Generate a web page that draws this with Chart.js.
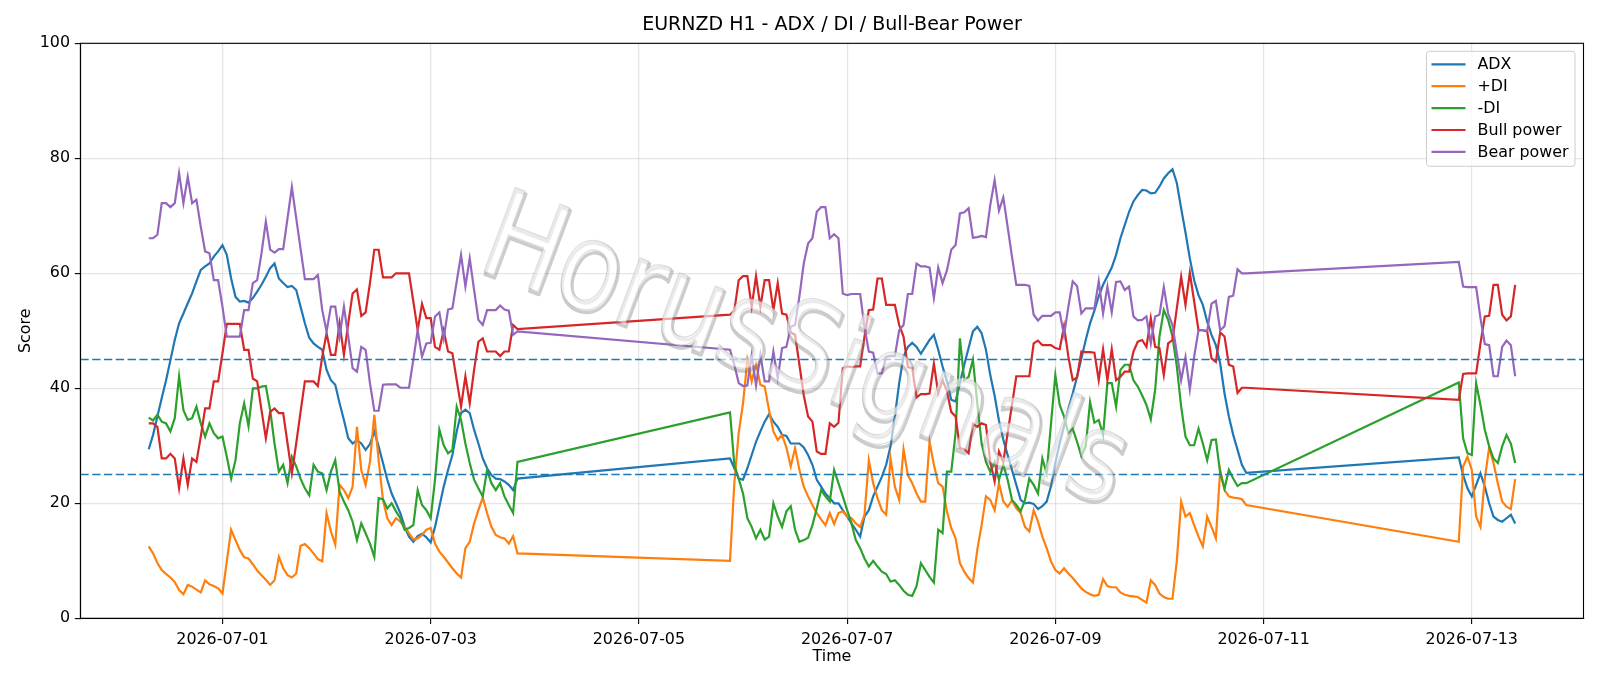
<!DOCTYPE html>
<html>
<head>
<meta charset="utf-8">
<script src="https://cdn.jsdelivr.net/npm/chart.js@4.4.1/dist/chart.umd.min.js"></script>
<style>
html,body{margin:0;padding:0;background:#ffffff;}
#wrap{width:1600px;height:686px;}
</style>
</head>
<body>
<div id="wrap"><canvas id="c" width="1600" height="686"></canvas></div>
<script>
// ---- categories (hourly bars, three trading blocks) ----
const segmentStarts = ['2026-06-30T07:00:00Z', '2026-07-05T21:00:00Z', '2026-07-12T21:00:00Z'];
const segmentLengths = [86, 120, 14];
const xTickLabels = ['2026-07-01', '2026-07-03', '2026-07-05', '2026-07-07', '2026-07-09', '2026-07-11', '2026-07-13'];
const yTickValues = [0, 20, 40, 60, 80, 100];
const refLevels = [45, 25];
const seriesLabels = ['ADX', '+DI', '-DI', 'Bull power', 'Bear power'];
const chartTitle = 'EURNZD H1 - ADX / DI / Bull-Bear Power';
const watermarkText = 'HorusSignals';

// ---- series values ----
const adx = [
29.4,31.9,35.1,38.3,41.4,44.9,48.4,51.3,53.0,54.8,56.5,58.6,60.6,61.2,61.7,62.9,63.8,64.9,
63.2,59.1,55.9,55.1,55.2,54.9,55.7,56.8,58.0,59.4,60.9,61.7,
59.1,58.3,57.6,57.8,57.1,54.2,51.3,48.8,47.8,47.2,46.7,43.2,41.4,40.6,37.4,34.5,31.3,30.4,31.0,30.4,29.3,30.3,32.5,29.9,27.0,24.1,21.7,20.0,18.3,
15.9,14.2,13.3,14.3,14.7,14.1,13.2,15.9,19.4,22.9,25.8,28.4,32.5,35.7,36.3,35.7,32.8,30.4,27.8,26.1,24.9,24.3,24.2,23.8,23.2,22.3,24.3,
27.8,26.1,24.3,24.1,26.1,28.4,30.7,32.5,34.2,35.5,34.2,33.3,31.9,31.7,30.4,30.4,30.4,29.7,28.4,26.7,24.1,22.9,21.7,20.9,20.0,20.0,18.8,17.7,16.5,
15.4,14.2,17.7,18.8,21.2,22.9,24.6,26.7,29.9,35.1,40.9,45.5,47.2,47.9,47.2,46.0,47.2,48.4,49.3,46.7,43.8,41.2,38.0,37.7,40.9,44.1,47.0,49.9,50.7,49.6,
46.7,42.3,38.7,34.4,31.1,28.4,25.8,23.2,20.6,20.0,20.1,19.9,19.0,19.5,20.3,23.0,27.1,30.4,33.4,36.5,39.1,42.0,45.2,48.4,51.3,53.5,56.0,58.0,59.5,61.0,
63.2,66.1,68.4,70.7,72.5,73.6,74.5,74.4,73.9,74.0,75.1,76.5,77.4,78.1,75.7,71.3,67.1,62.6,58.8,56.2,54.5,51.6,49.3,47.5,44.3,39.1,35.1,31.9,29.3,26.7,25.3,
28.0,24.9,22.6,21.2,23.2,25.2,22.9,20.0,17.7,17.1,16.8,17.4,18.0,16.5
];
const plusDi = [
12.5,11.3,9.6,8.4,7.7,7.1,6.3,4.9,4.2,5.8,5.5,5.0,4.5,6.6,5.9,5.6,5.2,4.3,
9.9,15.4,13.6,11.9,10.6,10.4,9.4,8.3,7.5,6.7,5.8,6.6,
10.7,8.7,7.5,7.1,7.8,12.6,12.9,12.2,11.3,10.3,9.9,18.3,15.1,12.8,23.2,22.3,20.9,22.9,33.3,25.8,23.2,27.2,35.4,27.5,20.6,17.4,16.2,17.4,16.8,
15.9,14.8,13.7,13.9,14.5,15.4,15.7,13.0,11.6,10.7,9.7,8.7,7.8,7.1,12.2,13.3,16.5,18.8,21.0,18.3,15.9,14.5,14.1,13.9,13.0,14.3,11.3,
10.0,23.5,32.2,37.4,44.9,41.2,44.3,40.6,40.3,36.2,32.5,31.0,31.9,29.7,26.4,29.6,25.8,22.9,21.2,19.7,18.3,17.2,16.2,18.3,16.4,18.3,18.6,17.7,17.4,
16.5,15.9,18.0,27.5,23.5,20.9,18.8,18.0,27.8,22.9,20.6,29.4,24.9,23.5,21.7,20.3,20.3,30.7,26.7,23.5,22.9,18.6,15.7,13.9,9.6,8.1,7.0,6.2,11.9,16.2,
21.2,20.6,18.8,23.5,20.3,19.4,20.5,19.1,18.3,15.9,15.1,18.8,16.8,14.2,12.2,9.9,8.4,7.8,8.7,7.8,7.0,6.1,5.2,4.6,4.2,3.9,4.1,6.8,5.6,5.4,
5.4,4.5,4.1,3.9,3.8,3.7,3.2,2.7,6.6,5.8,4.3,3.7,3.4,3.4,10.0,20.3,17.7,18.3,16.2,14.2,12.5,17.7,15.9,13.9,25.8,22.3,21.2,21.0,20.9,20.7,19.7,
13.3,26.4,28.1,25.8,17.7,15.9,24.3,29.7,27.0,23.5,20.3,19.4,19.0,24.2
];
const minusDi = [
34.9,34.4,35.4,34.2,33.9,32.5,34.8,42.1,36.2,34.5,34.8,36.8,33.9,31.6,33.9,32.2,31.3,31.6,
28.1,24.3,27.5,33.9,37.4,33.4,40.0,40.0,40.3,40.4,36.2,30.4,
25.5,26.7,23.5,28.1,26.4,24.3,22.6,21.4,26.7,25.5,25.2,22.3,25.5,27.5,22.0,20.3,18.8,16.8,13.6,16.5,14.8,13.0,10.7,20.9,20.7,19.1,20.0,18.6,17.4,
15.4,15.7,16.2,22.3,19.7,18.8,17.4,24.1,32.8,30.1,28.7,29.3,36.8,34.5,30.4,27.0,24.1,22.6,21.2,25.8,23.5,22.3,23.5,21.2,19.7,18.3,27.2,
35.8,26.7,24.3,21.7,17.4,15.9,13.9,15.4,13.7,14.2,20.0,17.7,15.9,18.6,19.5,15.4,13.3,13.6,14.0,16.2,19.1,22.3,21.2,20.3,25.8,23.5,21.2,18.8,16.5,
13.6,12.2,10.4,9.0,10.0,9.0,8.1,7.7,6.4,6.6,5.8,4.8,4.1,3.9,5.6,9.6,8.4,7.2,6.2,15.4,14.8,25.5,25.5,32.2,48.7,41.4,42.0,45.0,37.4,30.4,
27.2,25.5,27.2,24.1,26.7,24.1,20.6,19.7,18.6,20.6,24.3,23.2,21.7,27.8,25.2,33.9,42.3,37.1,35.1,32.2,33.0,30.7,28.2,29.9,37.6,34.0,34.5,31.9,40.9,40.9,
36.8,43.2,44.1,44.1,41.4,40.3,38.8,37.1,34.6,39.7,49.0,53.6,51.9,49.0,43.8,36.8,31.6,30.1,30.1,33.0,30.4,27.5,31.0,31.1,25.2,22.6,25.8,24.3,23.0,23.5,23.5,
41.0,31.3,28.7,28.4,40.9,37.1,32.8,29.9,27.8,27.0,29.9,31.9,30.4,27.0
];
const bullPower = [
33.9,33.9,33.3,27.8,27.8,28.6,27.8,22.6,27.8,23.2,27.8,27.2,31.6,36.5,36.5,41.2,41.2,46.1,
51.2,51.2,51.2,51.2,46.7,46.7,41.7,41.2,36.2,31.3,35.9,36.5,
35.7,35.7,30.4,25.2,30.4,35.9,41.2,41.2,41.2,40.4,45.5,49.6,45.8,45.8,51.3,45.8,51.3,56.5,57.2,52.6,53.2,58.3,64.1,64.1,59.3,59.3,59.3,60.0,60.0,
60.0,60.0,55.1,50.1,54.7,52.2,52.2,47.2,46.7,50.1,46.4,46.1,41.4,36.8,42.1,37.4,43.2,48.1,48.7,46.4,46.4,46.4,45.6,46.4,46.4,51.0,50.3,
52.8,53.5,58.8,59.5,59.5,54.2,59.5,54.2,58.8,58.8,53.6,58.3,53.0,52.8,49.7,49.3,44.1,38.8,35.1,34.2,29.0,28.6,28.6,33.9,33.3,34.0,43.5,43.8,43.7,
43.8,43.8,49.0,53.6,53.7,59.1,59.1,54.5,54.5,54.5,51.0,49.0,43.7,43.5,38.4,39.0,39.0,39.1,44.3,39.1,41.4,39.5,35.9,35.1,29.6,29.4,28.7,33.8,33.3,33.9,
33.6,27.2,23.8,29.0,27.2,32.2,37.1,42.1,42.1,42.1,42.1,47.8,48.3,47.5,47.5,47.5,47.0,46.8,50.8,45.5,41.4,41.9,46.4,46.3,46.3,46.2,41.4,46.8,41.4,46.8,
41.4,42.0,42.9,42.9,46.4,48.1,48.4,47.2,52.2,47.2,47.0,42.3,47.8,48.4,53.9,59.4,54.5,60.1,55.1,50.1,50.1,49.9,45.2,44.6,49.7,49.0,44.1,43.8,39.2,40.1,40.1,
38.0,42.5,42.6,42.6,42.6,47.8,52.5,52.6,58.0,58.0,52.8,51.8,52.5,58.0
];
const bearPower = [
66.1,66.1,66.7,72.2,72.2,71.5,72.2,77.4,72.2,76.8,72.2,72.8,68.1,63.8,63.5,58.8,58.8,54.2,
49.0,49.0,49.0,49.0,53.6,53.6,58.3,58.8,63.5,69.0,64.1,63.6,
64.2,64.2,69.6,75.0,69.6,64.3,59.0,59.0,59.0,59.7,53.6,49.9,54.2,54.2,49.0,54.2,49.0,43.5,42.9,47.2,46.7,40.9,36.1,36.1,40.6,40.7,40.7,40.7,40.1,
40.1,40.1,45.0,50.1,45.5,47.8,47.9,52.5,53.2,48.7,53.7,53.9,58.6,63.2,57.7,62.6,57.1,51.9,51.0,53.6,53.6,53.6,54.4,53.7,53.5,49.3,49.9,
46.7,44.1,40.9,40.4,40.5,45.8,40.5,45.8,41.2,41.2,46.4,41.7,47.0,47.2,50.7,51.0,56.0,61.7,65.2,66.1,70.7,71.5,71.5,66.1,66.8,66.1,56.5,56.2,56.4,
56.4,56.4,50.7,46.4,46.2,42.6,42.6,45.5,45.6,45.6,50.1,51.0,56.4,56.4,61.7,61.2,61.2,61.0,55.7,61.0,58.3,60.5,64.1,64.9,70.4,70.6,71.3,66.2,66.3,66.5,
66.3,71.9,76.2,70.9,73.2,68.1,62.9,58.0,58.0,58.0,57.8,52.8,51.8,52.6,52.6,52.6,53.2,53.2,49.2,54.2,58.6,57.8,53.0,53.9,53.9,53.9,58.6,53.0,57.7,53.2,
58.5,58.6,57.1,57.7,52.5,51.8,51.9,52.5,47.8,52.5,52.8,57.6,53.0,51.0,46.1,41.4,45.4,39.8,45.5,50.1,50.1,50.0,54.7,55.2,50.1,50.8,55.9,56.1,60.7,60.0,60.0,
62.0,57.7,57.6,57.6,57.6,52.2,47.7,47.5,42.1,42.1,47.2,48.3,47.5,42.1
];

// ---- styles ----
const seriesColors = ['#1f77b4', '#ff7f0e', '#2ca02c', '#d62728', '#9467bd'];
const FONT = '"DejaVu Sans", "Liberation Sans", sans-serif';
const TICK_PX = 15.9;

// ---- build time axis from segments ----
const HOUR = 3600000;
const times = [];
segmentStarts.forEach((s, i) => {
  const t0 = Date.parse(s);
  for (let k = 0; k < segmentLengths[i]; k++) times.push(t0 + k * HOUR);
});
const tMin = times[0], tMax = times[times.length - 1];
const span = tMax - tMin;
const xMin = tMin - 0.05 * span, xMax = tMax + 0.05 * span;
const tickValues = xTickLabels.map(s => Date.parse(s + 'T00:00:00Z'));

const seriesValues = [adx, plusDi, minusDi, bullPower, bearPower];
const datasets = seriesValues.map((vals, i) => ({
  label: seriesLabels[i],
  data: vals.map((v, k) => ({x: times[k], y: v})),
  borderColor: seriesColors[i],
  backgroundColor: seriesColors[i],
  borderWidth: 2.2,
  pointRadius: 0,
  tension: 0,
  fill: false,
  order: 5 - i
}));

const refLinePlugin = {
  id: 'refLines',
  afterDatasetsDraw(chart) {
    const {ctx, chartArea: a, scales: {y}} = chart;
    ctx.save();
    ctx.beginPath(); ctx.rect(a.left, a.top, a.right - a.left, a.bottom - a.top); ctx.clip();
    ctx.strokeStyle = '#1f77b4';
    ctx.lineWidth = 1.5;
    ctx.setLineDash([8.3, 3.5]);
    refLevels.forEach(v => {
      const py = y.getPixelForValue(v);
      ctx.beginPath(); ctx.moveTo(a.left, py); ctx.lineTo(a.right, py); ctx.stroke();
    });
    ctx.restore();
  }
};

const watermarkPlugin = {
  id: 'watermark',
  afterDatasetsDraw(chart) {
    const {ctx, chartArea: a} = chart;
    const cx = a.left + 0.481 * (a.right - a.left);
    const cy = a.top + 0.545 * (a.bottom - a.top);
    ctx.save();
    ctx.translate(cx, cy);
    ctx.rotate(20.5 * Math.PI / 180);
    ctx.scale(1, 1.18);
    ctx.font = '104px ' + FONT;
    ctx.textAlign = 'center';
    ctx.textBaseline = 'middle';
    ctx.lineJoin = 'round';
    ctx.strokeStyle = 'rgba(120,120,120,0.38)';
    ctx.lineWidth = 3;
    ctx.strokeText(watermarkText, 2, 2);
    ctx.fillStyle = 'rgba(255,255,255,0.6)';
    ctx.fillText(watermarkText, 0, 0);
    ctx.strokeStyle = 'rgba(160,160,160,0.35)';
    ctx.lineWidth = 1.1;
    ctx.strokeText(watermarkText, 0, 0);
    ctx.restore();
  }
};

const framePlugin = {
  id: 'frame',
  afterDraw(chart) {
    const {ctx, chartArea: a} = chart;
    ctx.save();
    ctx.strokeStyle = '#000';
    ctx.lineWidth = 1.1;
    ctx.strokeRect(a.left, a.top, a.right - a.left, a.bottom - a.top);
    ctx.fillStyle = '#000';
    ctx.font = '19px ' + FONT;
    ctx.textAlign = 'center';
    ctx.textBaseline = 'middle';
    ctx.fillText(chartTitle, (a.left + a.right) / 2, 25.5);
    ctx.restore();
  }
};

const legendPlugin = {
  id: 'boxLegend',
  afterDraw(chart) {
    const {ctx, chartArea: a} = chart;
    const w = 148.5, h = 115;
    const x0 = a.right - 8.5 - w, y0 = a.top + 8;
    ctx.save();
    ctx.beginPath();
    const r = 3;
    ctx.moveTo(x0 + r, y0);
    ctx.arcTo(x0 + w, y0, x0 + w, y0 + h, r);
    ctx.arcTo(x0 + w, y0 + h, x0, y0 + h, r);
    ctx.arcTo(x0, y0 + h, x0, y0, r);
    ctx.arcTo(x0, y0, x0 + w, y0, r);
    ctx.closePath();
    ctx.fillStyle = 'rgba(255,255,255,0.8)';
    ctx.fill();
    ctx.strokeStyle = '#cccccc';
    ctx.lineWidth = 1;
    ctx.stroke();
    ctx.font = TICK_PX + 'px ' + FONT;
    ctx.textAlign = 'left';
    ctx.textBaseline = 'middle';
    chart.data.datasets.forEach((ds, i) => {
      const yy = y0 + 13 + i * 21.9;
      ctx.strokeStyle = ds.borderColor;
      ctx.lineWidth = 2.2;
      ctx.beginPath(); ctx.moveTo(x0 + 5, yy); ctx.lineTo(x0 + 39, yy); ctx.stroke();
      ctx.fillStyle = '#000';
      ctx.fillText(ds.label, x0 + 51, yy + 1);
    });
    ctx.restore();
  }
};

Chart.defaults.font.family = FONT;
Chart.defaults.font.size = TICK_PX;
Chart.defaults.color = '#000';

new Chart(document.getElementById('c'), {
  type: 'line',
  data: {datasets},
  options: {
    responsive: false,
    animation: false,
    devicePixelRatio: 1,
    layout: {padding: {left: 0, right: 16.5, top: 43.3, bottom: 0}},
    plugins: {legend: {display: false}, title: {display: false}, tooltip: {enabled: false}},
    scales: {
      x: {
        type: 'linear',
        min: xMin,
        max: xMax,
        afterBuildTicks: (scale) => { scale.ticks = tickValues.map(v => ({value: v})); },
        afterFit: (scale) => { scale.height = 67.7; },
        ticks: {
          autoSkip: false, maxRotation: 0, padding: 6,
          color: '#000', font: {size: TICK_PX, family: FONT},
          callback: (v) => { const i = tickValues.indexOf(v); return i >= 0 ? xTickLabels[i] : ''; }
        },
        grid: {color: 'rgba(176,176,176,0.33)', lineWidth: 1.2, tickColor: '#000', tickLength: 5.6, tickWidth: 1.1},
        border: {display: true, color: '#000', width: 1.1},
        title: {display: true, text: 'Time', color: '#000', font: {size: TICK_PX, family: FONT}, padding: {top: 0, bottom: 19.5}}
      },
      y: {
        min: 0, max: 100,
        afterBuildTicks: (scale) => { scale.ticks = yTickValues.map(v => ({value: v})); },
        afterFit: (scale) => { scale.width = 80.4; },
        ticks: {padding: 4.8, color: '#000', font: {size: TICK_PX, family: FONT}},
        grid: {color: 'rgba(176,176,176,0.33)', lineWidth: 1.2, tickColor: '#000', tickLength: 5.6, tickWidth: 1.1},
        border: {display: true, color: '#000', width: 1.1},
        title: {display: true, text: 'Score', color: '#000', font: {size: TICK_PX, family: FONT}, padding: {top: 16, bottom: 0}}
      }
    }
  },
  plugins: [refLinePlugin, watermarkPlugin, framePlugin, legendPlugin]
});
</script>
</body>
</html>
